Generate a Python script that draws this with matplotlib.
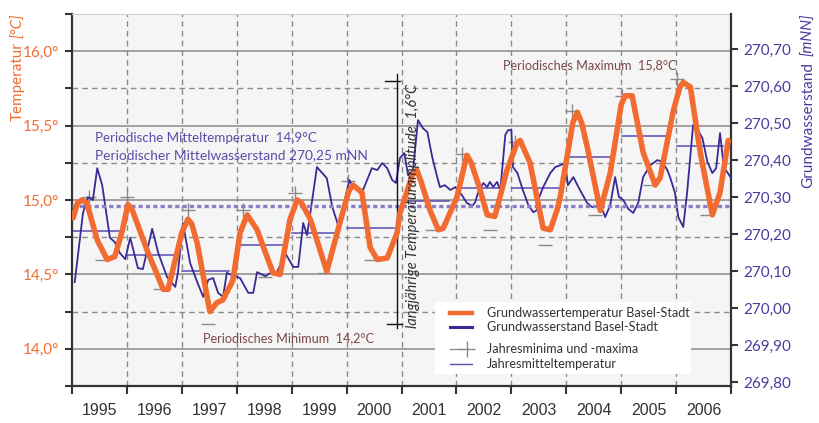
import matplotlib
matplotlib.use("Agg")
import matplotlib.pyplot as plt
import numpy as np
from matplotlib.patches import Rectangle
from matplotlib.lines import Line2D

# Grundwassertemperatur Basel-Stadt (t in Jahren, Temperatur in °C)
temp_t = [1995.02, 1995.10, 1995.18, 1995.27, 1995.46, 1995.64, 1995.78, 1995.92, 1996.02, 1996.10,
          1996.37, 1996.66, 1996.75, 1997.00, 1997.11, 1997.18, 1997.28, 1997.51, 1997.64, 1997.75,
          1997.93, 1998.06, 1998.19, 1998.37, 1998.66, 1998.79, 1998.97, 1999.10, 1999.18, 1999.34,
          1999.64, 1999.88, 2000.04, 2000.12, 2000.28, 2000.43, 2000.56, 2000.74, 2000.92, 2000.97,
          2001.20, 2001.28, 2001.36, 2001.52, 2001.67, 2001.76, 2002.01, 2002.19, 2002.27, 2002.43,
          2002.56, 2002.70, 2002.92, 2003.10, 2003.16, 2003.34, 2003.58, 2003.71, 2003.83, 2003.89,
          2004.12, 2004.20, 2004.28, 2004.38, 2004.62, 2004.80, 2005.00, 2005.07, 2005.20, 2005.40,
          2005.62, 2005.71, 2005.95, 2006.07, 2006.13, 2006.26, 2006.44, 2006.66, 2006.80, 2006.95]
temp_v = [14.88, 14.98, 15.00, 14.98, 14.73, 14.60, 14.62, 14.80, 14.97, 14.93,
          14.66, 14.40, 14.40, 14.78, 14.87, 14.84, 14.71, 14.25, 14.31, 14.33,
          14.46, 14.78, 14.90, 14.80, 14.51, 14.50, 14.87, 15.00, 14.98, 14.87,
          14.52, 14.85, 15.06, 15.10, 15.05, 14.68, 14.60, 14.61, 14.78, 14.91,
          15.17, 15.20, 15.12, 14.93, 14.80, 14.81, 15.02, 15.30, 15.25, 15.07,
          14.90, 14.89, 15.20, 15.38, 15.40, 15.25, 14.81, 14.80, 14.93, 15.02,
          15.52, 15.59, 15.52, 15.36, 14.93, 15.18, 15.64, 15.70, 15.70, 15.32,
          15.10, 15.15, 15.60, 15.76, 15.79, 15.76, 15.32, 14.90, 15.05, 15.40]

# Grundwasserstand Basel-Stadt (mNN)
lvl_t = [1995.05, 1995.20, 1995.29, 1995.38, 1995.46, 1995.55, 1995.69, 1995.78, 1995.87, 1995.97,
         1996.06, 1996.20, 1996.29, 1996.46, 1996.57, 1996.73, 1996.88, 1996.93, 1997.02, 1997.15,
         1997.28, 1997.39, 1997.48, 1997.57, 1997.66, 1997.75, 1997.82, 1997.91, 1998.06, 1998.21,
         1998.30, 1998.37, 1998.52, 1998.64, 1998.73, 1998.88, 1999.03, 1999.12, 1999.21, 1999.28,
         1999.34, 1999.46, 1999.64, 1999.74, 1999.85, 1999.97, 2000.05, 2000.10, 2000.21, 2000.30,
         2000.46, 2000.56, 2000.65, 2000.74, 2000.83, 2000.90, 2000.97, 2001.05, 2001.12, 2001.21,
         2001.30, 2001.39, 2001.47, 2001.56, 2001.65, 2001.70, 2001.79, 2001.89, 2001.98, 2002.10,
         2002.19, 2002.29, 2002.34, 2002.40, 2002.49, 2002.56, 2002.61, 2002.67, 2002.74, 2002.80,
         2002.89, 2002.94, 2003.00, 2003.03, 2003.11, 2003.21, 2003.31, 2003.40, 2003.47, 2003.49,
         2003.58, 2003.71, 2003.80, 2003.89, 2003.98, 2004.03, 2004.13, 2004.25, 2004.38, 2004.47,
         2004.56, 2004.65, 2004.71, 2004.80, 2004.89, 2004.96, 2005.04, 2005.13, 2005.22, 2005.31,
         2005.40, 2005.53, 2005.66, 2005.75, 2005.84, 2005.89, 2005.98, 2006.04, 2006.13, 2006.20,
         2006.31, 2006.38, 2006.48, 2006.57, 2006.66, 2006.73, 2006.80, 2006.87, 2006.99]
lvl_v = [270.070, 270.257, 270.300, 270.292, 270.378, 270.332, 270.190, 270.178, 270.149, 270.132,
         270.190, 270.108, 270.105, 270.214, 270.149, 270.084, 270.057, 270.097, 270.230, 270.122,
         270.070, 270.030, 270.076, 270.081, 270.041, 270.030, 270.095, 270.089, 270.081, 270.041,
         270.041, 270.097, 270.086, 270.097, 270.095, 270.149, 270.111, 270.111, 270.230, 270.197,
         270.257, 270.381, 270.351, 270.273, 270.222, 270.292, 270.346, 270.332, 270.324, 270.319,
         270.378, 270.373, 270.392, 270.378, 270.346, 270.338, 270.405, 270.419, 270.359, 270.373,
         270.508, 270.486, 270.476, 270.408, 270.354, 270.327, 270.332, 270.319, 270.327, 270.305,
         270.284, 270.276, 270.286, 270.314, 270.338, 270.327, 270.341, 270.327, 270.341, 270.319,
         270.468, 270.481, 270.481, 270.381, 270.365, 270.319, 270.278, 270.259, 270.265, 270.292,
         270.327, 270.365, 270.381, 270.386, 270.392, 270.332, 270.354, 270.319, 270.284, 270.273,
         270.273, 270.268, 270.246, 270.278, 270.354, 270.300, 270.292, 270.268, 270.257, 270.284,
         270.354, 270.386, 270.400, 270.395, 270.373, 270.354, 270.311, 270.246, 270.219, 270.311,
         270.495, 270.486, 270.459, 270.395, 270.365, 270.378, 270.473, 270.381, 270.354]

years = list(range(1995, 2007))
year_mean = [14.79, 14.63, 14.52, 14.70, 14.78, 14.81, 14.99, 15.08, 15.08, 15.29, 15.43, 15.36]

max_t = [1995.31, 1996.00, 1997.11, 1998.11, 1999.06, 2000.03, 2002.10, 2003.07, 2004.11, 2005.02, 2006.02]
max_v = [15.02, 15.02, 14.93, 14.93, 15.05, 15.13, 15.31, 15.39, 15.60, 15.70, 15.81]
min_t = [1995.55, 1996.60, 1997.48, 1998.52, 1999.61, 2000.45, 2001.56, 2002.61, 2003.62, 2004.53, 2005.53, 2006.57]
min_v = [14.60, 14.40, 14.17, 14.48, 14.51, 14.60, 14.80, 14.80, 14.70, 14.90, 15.10, 14.90]

mean_temp = 14.96
per_max = 15.80
per_min = 14.17

ORANGE = '#F26B30'
PURPLE = '#3A2A96'
LAV = '#8A80C8'
TXTPUR = '#5A4CA8'
BROWN = '#7A4848'
GREY = '#8A8A8A'

plt.rcParams['font.family'] = ['Lato', 'DejaVu Sans']

fig = plt.figure(figsize=(8.19, 4.23), dpi=100)
pos = [72/819, 37/423, 659/819, 372/423]
ax = fig.add_axes(pos)
ax.set_facecolor('#F5F5F5')
ax.set_xlim(1995, 2007)
ax.set_ylim(13.75, 16.25)

# Gitter
for y in np.arange(14.0, 16.01, 0.5):
    ax.axhline(y, color=GREY, lw=1.1, zorder=1)
for y in np.arange(14.25, 16.0, 0.5):
    ax.axhline(y, color=GREY, lw=1.0, ls=(0, (4, 3)), zorder=1)
for yr in range(1996, 2007):
    ax.axvline(yr, color=GREY, lw=1.0, ls=(0, (4, 3)), zorder=1)

# Jahresmittel, Jahresminima und -maxima
for yr, m in zip(years, year_mean):
    ax.plot([yr + 0.01, yr + 0.86], [m, m], color='#5A4CB0', lw=1.1, zorder=2)
ax.plot(max_t, max_v, ls='none', marker='+', ms=10, mew=1.0, color=GREY, zorder=2)
ax.plot(min_t, min_v, ls='none', marker='_', ms=10, mew=1.0, color=GREY, zorder=2)

# Achsen links / unten
yt = np.arange(13.75, 16.26, 0.25)
ax.set_yticks(yt)
ax.set_yticklabels([f"{v:.1f}°".replace('.', ',') if abs(v * 2 - round(v * 2)) < 1e-6 and 14 <= v <= 16 else ''
                    for v in yt])
ax.tick_params(axis='y', direction='out', length=5, width=1.5, colors='#333333',
               labelcolor=ORANGE, labelsize=11, pad=4)
ax.set_xticks(range(1995, 2008))
ax.set_xticklabels([])
ax.set_xticks([y + 0.5 for y in years], minor=True)
ax.set_xticklabels([str(y) for y in years], minor=True, fontfamily='Liberation Sans', fontsize=11.5, color='#333333')
ax.tick_params(axis='x', which='major', direction='out', length=6, width=1.5, colors='#333333')
ax.tick_params(axis='x', which='minor', length=0, pad=12)
for s in ['left', 'bottom']:
    ax.spines[s].set_color('#333333')
    ax.spines[s].set_linewidth(1.6)
ax.spines['top'].set_color('#D0D0D0')
ax.spines['right'].set_visible(False)

# Grundwasserstand (rechte Achse)
ax2 = ax.twinx()
ax2.set_ylim(269.789, 270.795)
ax2.plot(lvl_t, lvl_v, color=PURPLE, lw=1.3, zorder=3)
rt = np.arange(269.8, 270.71, 0.1)
ax2.set_yticks(rt)
ax2.set_yticklabels([f"{v:.2f}".replace('.', ',') for v in rt])
ax2.tick_params(axis='y', direction='out', length=5, width=1.5, colors='#333333',
                labelcolor='#4B3A9E', labelsize=11, pad=4)
for s in ['left', 'top', 'bottom']:
    ax2.spines[s].set_visible(False)
ax2.spines['right'].set_color('#333333')
ax2.spines['right'].set_linewidth(1.6)

# Temperatur oben drauf
ax3 = fig.add_axes(pos, sharex=ax, sharey=ax, frameon=False)
ax3.axis('off')
ax3.axhline(mean_temp, color=LAV, lw=2.4, ls=(0, (1.3, 0.9)), zorder=2)
ax3.plot(temp_t, temp_v, color=ORANGE, lw=4.0, solid_joinstyle='round', solid_capstyle='round', zorder=3)

# Amplitude
xa = 2000.92
ax3.plot([xa, xa], [per_min - 0.03, per_max + 0.05], color='#111111', lw=1.0)
ax3.plot([xa - 0.22, xa + 0.05], [per_max, per_max], color='#111111', lw=1.0)
ax3.plot([xa - 0.18, xa + 0.09], [per_min, per_min], color='#111111', lw=1.0)
ax3.text(2001.21, 14.96, 'langjährige Temperaturamplitude  1,6°C', rotation=90, style='italic',
         ha='center', va='center', fontsize=10.5, color='#333333')

ax3.text(1995.42, 15.42, 'Periodische Mitteltemperatur  14,9°C', color=TXTPUR, fontsize=9.6, va='center')
ax3.text(1995.42, 15.30, 'Periodischer Mittelwasserstand 270,25 mNN', color=TXTPUR, fontsize=9.9, va='center')
ax3.text(2002.85, 15.905, 'Periodisches Maximum  15,8°C', color=BROWN, fontsize=9.1, va='center')
ax3.text(1997.39, 14.07, 'Periodisches Minimum  14,2°C', color=BROWN, fontsize=9.1, va='center')

# Legende
ax3.add_patch(Rectangle((0.551, 0.032), 0.388, 0.194, transform=ax3.transAxes,
                        facecolor='white', edgecolor='none', zorder=5))
legend_rows = [0.196, 0.159, 0.0995, 0.059]
ax3.add_line(Line2D([0.574, 0.607], [legend_rows[0]] * 2, transform=ax3.transAxes, color=ORANGE, lw=3.2, zorder=6))
ax3.add_line(Line2D([0.574, 0.607], [legend_rows[1]] * 2, transform=ax3.transAxes, color=PURPLE, lw=2.2, zorder=6))
ax3.add_line(Line2D([0.574, 0.592], [legend_rows[2]] * 2, transform=ax3.transAxes, color=GREY, lw=1.0, zorder=6))
ax3.add_line(Line2D([0.600], [legend_rows[2]], transform=ax3.transAxes, marker='+', ms=12, mew=1.0,
                    color=GREY, zorder=6))
ax3.add_line(Line2D([0.574, 0.607], [legend_rows[3]] * 2, transform=ax3.transAxes, color='#5A4CB0', lw=1.0, zorder=6))
for yy, lab in zip(legend_rows, ['Grundwassertemperatur Basel-Stadt', 'Grundwasserstand Basel-Stadt',
                                 'Jahresminima und -maxima', 'Jahresmitteltemperatur']):
    ax3.text(0.630, yy, lab, transform=ax3.transAxes, va='center', fontsize=9.1, color='#333333', zorder=7)

# Achsentitel
fig.text(18/819, 1 - 14/423, '[°C]', rotation=90, style='italic', color=ORANGE, fontsize=11,
         ha='center', va='top')
fig.text(18/819, 1 - 42/423, 'Temperatur', rotation=90, color=ORANGE, fontsize=11, ha='center', va='top')
fig.text(808/819, 1 - 14/423, '[mNN]', rotation=90, style='italic', color='#4B3A9E', fontsize=11,
         ha='center', va='top')
fig.text(808/819, 1 - 62/423, 'Grundwasserstand', rotation=90, color='#4B3A9E', fontsize=11,
         ha='center', va='top')

fig.savefig('out.png', dpi=100)
